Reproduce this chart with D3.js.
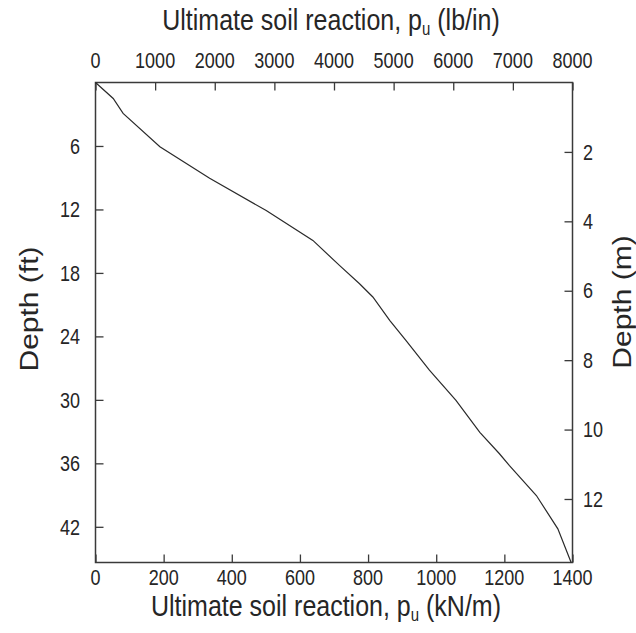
<!DOCTYPE html>
<html>
<head>
<meta charset="utf-8">
<script src="https://cdn.jsdelivr.net/npm/d3@7"></script>
<style>
  html, body { margin: 0; padding: 0; background: #fff; }
  svg { display: block; }
  text { font-family: "Liberation Sans", Arial, sans-serif; fill: #262626; }
</style>
</head>
<body>
<svg id="chart" width="636" height="633"></svg>
<script>
// ---- data (depth in m, ultimate soil reaction in kN/m) ----
const depthM = [0, 0.46, 0.89, 1.85, 2.76, 3.69, 4.55, 5.27, 5.8, 6.18, 6.86, 7.43, 8.29, 9.16, 10.08, 10.69, 11.04, 11.9, 12.86, 13.83];
const puKN   = [0, 52, 81, 189, 335, 501, 638, 716, 775, 814, 864, 911, 980, 1058, 1128, 1185, 1215, 1294, 1357, 1396];

const bottomTicks = [0, 200, 400, 600, 800, 1000, 1200, 1400];
const topTicks = [0, 1000, 2000, 3000, 4000, 5000, 6000, 7000, 8000];
const leftTicks = [6, 12, 18, 24, 30, 36, 42];
const rightTicks = [2, 4, 6, 8, 10, 12];

const maxKN = 1400, maxLb = 8000, maxDepthM = 13.83, ftPerM = 3.2808;

// ---- layout ----
const L = 95.5, R = 572.5, T = 82.5, B = 562.5;
const SY = 1.2; // vertical stretch of text in the reference

const svg = d3.select("#chart");

const xKN = d3.scaleLinear().domain([0, maxKN]).range([L, R]);
const xLb = d3.scaleLinear().domain([0, maxLb]).range([L, R]);
const yM  = d3.scaleLinear().domain([0, maxDepthM]).range([T, B]);
const yFt = d3.scaleLinear().domain([0, maxDepthM * ftPerM]).range([T, B]);

const tickLen = 8;
const axisColor = "#3a3a3a";

function styleAxis(g) {
  g.select(".domain").remove();
  g.selectAll(".tick line").attr("stroke", axisColor).attr("stroke-width", 1.3);
  g.selectAll(".tick text").remove();
}

svg.append("g").attr("transform", `translate(0,${B})`)
  .call(d3.axisBottom(xKN).tickValues(bottomTicks).tickSizeInner(-tickLen).tickSizeOuter(0))
  .call(styleAxis);
svg.append("g").attr("transform", `translate(0,${T})`)
  .call(d3.axisTop(xLb).tickValues(topTicks).tickSizeInner(-tickLen).tickSizeOuter(0))
  .call(styleAxis);
svg.append("g").attr("transform", `translate(${L},0)`)
  .call(d3.axisLeft(yFt).tickValues(leftTicks).tickSizeInner(-tickLen).tickSizeOuter(0))
  .call(styleAxis);
svg.append("g").attr("transform", `translate(${R},0)`)
  .call(d3.axisRight(yM).tickValues(rightTicks).tickSizeInner(-tickLen).tickSizeOuter(0))
  .call(styleAxis);

// frame
svg.append("rect")
  .attr("x", L).attr("y", T).attr("width", R - L).attr("height", B - T)
  .attr("fill", "none").attr("stroke", axisColor).attr("stroke-width", 1.5);

// curve
const pts = depthM.map((d, i) => [puKN[i], d]);
svg.append("path")
  .datum(pts)
  .attr("fill", "none")
  .attr("stroke", "#2a2a2a")
  .attr("stroke-width", 1.2)
  .attr("d", d3.line().x(p => xKN(p[0])).y(p => yM(p[1])));

// ---- tick labels ----
const tickFont = 18;
function label(x, y, txt, anchor) {
  svg.append("text")
    .attr("transform", `translate(${x},${y}) scale(1,${SY})`)
    .attr("text-anchor", anchor)
    .attr("font-size", tickFont)
    .text(txt);
}
const capHalf = tickFont * 0.716 * SY / 2;
bottomTicks.forEach(v => label(xKN(v), 585, v, "middle"));
topTicks.forEach(v => label(xLb(v), 68, v, "middle"));
leftTicks.forEach(v => label(80, yFt(v) + capHalf, v, "end"));
rightTicks.forEach(v => label(583, yM(v) + capHalf, v, "start"));

// ---- axis titles ----
const titleFont = 25;
function titleWithSub(x, y, unit) {
  const t = svg.append("text")
    .attr("transform", `translate(${x},${y}) scale(1,${SY})`)
    .attr("text-anchor", "middle")
    .attr("font-size", titleFont);
  t.append("tspan").text("Ultimate soil reaction, p");
  t.append("tspan").attr("font-size", titleFont * 0.6).attr("dy", 4).text("u");
  t.append("tspan").attr("dy", -4).text(" (" + unit + ")");
}
titleWithSub(326, 616, "kN/m");
titleWithSub(331, 30, "lb/in");

svg.append("text")
  .attr("transform", `translate(38,309) rotate(-90) scale(${SY},1)`)
  .attr("text-anchor", "middle")
  .attr("font-size", titleFont)
  .text("Depth (ft)");
svg.append("text")
  .attr("transform", `translate(631,302) rotate(-90) scale(${SY},1)`)
  .attr("text-anchor", "middle")
  .attr("font-size", titleFont)
  .text("Depth (m)");
</script>
</body>
</html>
